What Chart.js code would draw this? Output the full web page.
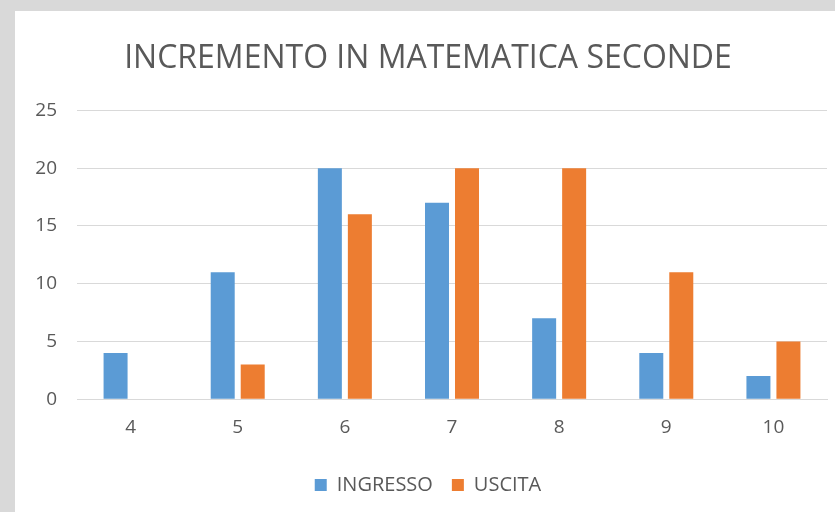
<!DOCTYPE html>
<html>
<head>
<meta charset="utf-8">
<script src="https://cdn.jsdelivr.net/npm/chart.js@4.4.0/dist/chart.umd.min.js"></script>
<style>
  html, body { margin: 0; padding: 0; background: #d9d9d9; }
  #box { position: absolute; left: 15px; top: 11px; width: 820px; height: 501px; background: #fff; }
  #myChart { position: absolute; left: 14px; top: 0; }
</style>
</head>
<body>
<div id="box"><canvas id="myChart" width="806" height="501"></canvas></div>
<script>
// dati
const voti = ['4', '5', '6', '7', '8', '9', '10']
const ingresso = [4, 11, 20, 17, 7, 4, 2]
const uscita = [0, 3, 16, 20, 20, 11, 5]
const titolo = 'INCREMENTO IN MATEMATICA SECONDE'

const grigio = '#595959'
const font = 'Open Sans'

var ctx = document.getElementById('myChart').getContext('2d')
var myChart = new Chart(ctx, {
    type: 'bar',
    data: {
        labels: voti,
        datasets: [{
            label: 'INGRESSO',
            data: ingresso,
            backgroundColor: '#5B9BD5'
        }, {
            label: 'USCITA',
            data: uscita,
            backgroundColor: '#ED7D31'
        }]
    },
    options: {
        responsive: false,
        animation: false,
        categoryPercentage: 0.56,
        barPercentage: 0.8,
        layout: { padding: { left: 0, right: 8, top: 29, bottom: 7 } },
        plugins: {
            title: {
                display: true,
                text: titolo,
                color: grigio,
                font: { family: font, size: 32, weight: 'normal' },
                padding: { top: 0, bottom: 32 }
            },
            legend: {
                position: 'bottom',
                labels: {
                    color: grigio,
                    font: { family: font, size: 20 },
                    boxWidth: 12,
                    boxHeight: 12,
                    padding: 19
                }
            },
            tooltip: { enabled: false }
        },
        scales: {
            x: {
                grid: { display: false, drawTicks: false },
                border: { color: '#d9d9d9' },
                ticks: { color: grigio, font: { family: font, size: 19 }, padding: 17 }
            },
            y: {
                min: 0,
                max: 25,
                afterFit: function (s) { s.width = 48 },
                grid: { color: '#d9d9d9', drawTicks: false },
                border: { display: false },
                ticks: { stepSize: 5, color: grigio, font: { family: font, size: 19 }, padding: 20 }
            }
        }
    }
})
</script>
</body>
</html>
